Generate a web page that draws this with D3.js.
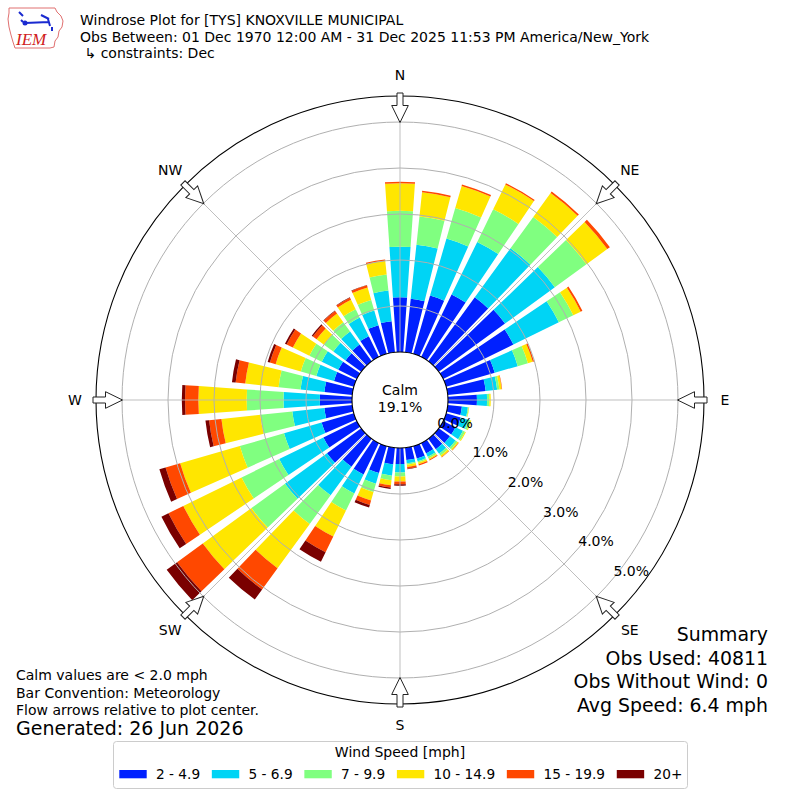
<!DOCTYPE html>
<html>
<head>
<meta charset="utf-8">
<script src="https://cdn.jsdelivr.net/npm/d3@7"></script>
<style>
  body { margin: 0; background: #fff; }
  text { font-family: "DejaVu Sans", sans-serif; fill: #000; }
</style>
</head>
<body>
<svg id="chart" width="800" height="800"></svg>
<script>
// directions (deg, meteorological) and speed bins
const directions = d3.range(0, 360, 10);
const speedBins = ["2 - 4.9", "5 - 6.9", "7 - 9.9", "10 - 14.9", "15 - 19.9", "20+"];
const binColors = ["#0020ff", "#00d4f5", "#80ff80", "#ffe600", "#ff4800", "#7a0000"];

// frequency (%) per direction for each speed bin
const s2to5   = [1.19,1.17,1.32,1.51,1.72,1.78,1.70,1.10,0.83,0.63,0.31,0.33,0.30,0.30,0.28,0.25,0.28,0.27,
                 0.35,0.36,0.61,0.76,0.75,0.92,0.81,0.73,0.61,0.70,0.61,0.45,0.45,0.42,0.45,0.50,0.65,0.68];
const s5to7   = [1.10,1.18,1.29,1.27,1.32,1.34,1.10,0.52,0.25,0.22,0.13,0.17,0.18,0.15,0.12,0.08,0.06,0.07,
                 0.18,0.25,0.24,0.46,0.77,1.13,1.07,0.85,0.70,0.79,0.52,0.40,0.40,0.33,0.35,0.45,0.33,0.67];
const s7to10  = [0.78,0.62,0.69,0.79,0.84,0.85,0.35,0.23,0.05,0.05,0.02,0.05,0.05,0.05,0.05,0.04,0.03,0.03,
                 0.09,0.10,0.19,0.41,0.77,0.90,0.91,1.00,0.70,0.80,0.48,0.35,0.30,0.25,0.25,0.20,0.24,0.35];
const s10to15 = [0.60,0.53,0.50,0.60,0.64,0.56,0.18,0.11,0.05,0.03,0.01,0.02,0.02,0.03,0.04,0.03,0.04,0.05,
                 0.11,0.11,0.19,0.63,1.19,1.31,1.41,1.35,0.85,1.05,0.73,0.57,0.40,0.20,0.23,0.23,0.28,0.30];
const s15to20 = [0.03,0.03,0.03,0.03,0.04,0.07,0.04,0.03,0.01,0.00,0.00,0.00,0.00,0.01,0.01,0.02,0.03,0.04,
                 0.06,0.05,0.10,0.38,0.57,0.69,0.36,0.33,0.27,0.29,0.21,0.13,0.15,0.10,0.07,0.05,0.05,0.03];
const s20plus = [0.00,0.00,0.00,0.00,0.00,0.00,0.00,0.00,0.00,0.00,0.00,0.00,0.00,0.00,0.00,0.00,0.00,0.01,
                 0.03,0.03,0.06,0.23,0.27,0.28,0.17,0.14,0.08,0.07,0.08,0.05,0.04,0.03,0.01,0.01,0.01,0.00];

const radialTicks = [0, 1, 2, 3, 4, 5];
const compass = ["N", "NE", "E", "SE", "S", "SW", "W", "NW"];
const calmPct = 19.1;

const titleLines = [
  "Windrose Plot for [TYS] KNOXVILLE MUNICIPAL",
  "Obs Between: 01 Dec 1970 12:00 AM - 31 Dec 2025 11:53 PM America/New_York",
  " \u21b3 constraints: Dec"
];
const noteLines = ["Calm values are < 2.0 mph", "Bar Convention: Meteorology", "Flow arrows relative to plot center."];
const generated = "Generated: 26 Jun 2026";
const summaryLines = ["Summary", "Obs Used: 40811", "Obs Without Wind: 0", "Avg Speed: 6.4 mph"];

const series = [s2to5, s5to7, s7to10, s10to15, s15to20, s20plus];
const table = directions.map((dir, i) => {
  const row = { dir: dir };
  speedBins.forEach((b, j) => row[b] = series[j][i]);
  return row;
});

const svg = d3.select("#chart");
const cx = 400, cy = 400;
const calmR = 48, outerR = 304;
const r = d3.scaleLinear().domain([0, 5]).range([calmR, 278]);
const rad = Math.PI / 180;
const halfW = 3.95 * rad;

const plot = svg.append("g").attr("transform", `translate(${cx},${cy})`);

// stacked bars
const stacked = d3.stack().keys(speedBins)(table);
const arc = d3.arc()
  .innerRadius(d => r(d[0]))
  .outerRadius(d => r(d[1]))
  .startAngle(d => d.data.dir * rad - halfW)
  .endAngle(d => d.data.dir * rad + halfW);

plot.selectAll("g.layer")
  .data(stacked)
  .enter().append("g")
    .attr("class", "layer")
    .attr("fill", (d, i) => binColors[i])
  .selectAll("path")
  .data(d => d.filter(p => p[1] - p[0] > 0))
  .enter().append("path")
    .attr("d", arc);

// grid rings
plot.selectAll("circle.ring")
  .data(radialTicks.slice(1))
  .enter().append("circle")
    .attr("class", "ring")
    .attr("r", d => r(d))
    .attr("fill", "none")
    .attr("stroke", "#b0b0b0")
    .attr("stroke-width", 1);

// spokes
plot.selectAll("line.spoke")
  .data(compass)
  .enter().append("line")
    .attr("class", "spoke")
    .attr("x1", (d, i) => calmR * Math.sin(i * 45 * rad))
    .attr("y1", (d, i) => -calmR * Math.cos(i * 45 * rad))
    .attr("x2", (d, i) => outerR * Math.sin(i * 45 * rad))
    .attr("y2", (d, i) => -outerR * Math.cos(i * 45 * rad))
    .attr("stroke", "#b8b8b8")
    .attr("stroke-width", 0.9);

// outer frame
plot.append("circle")
  .attr("r", outerR)
  .attr("fill", "none")
  .attr("stroke", "#000")
  .attr("stroke-width", 1.1);

// calm circle
plot.append("circle")
  .attr("r", calmR)
  .attr("fill", "#fff")
  .attr("stroke", "#000")
  .attr("stroke-width", 1.1);
plot.append("text")
  .attr("text-anchor", "middle")
  .attr("y", -5)
  .style("font-size", "14px")
  .text("Calm");
plot.append("text")
  .attr("text-anchor", "middle")
  .attr("y", 12)
  .style("font-size", "14px")
  .text(calmPct.toFixed(1) + "%");

// flow arrows
const tip = r(5) - 0.5, base = tip + 17, tail = outerR + 3;
const arrowPath = `M0,${-tip} L8.3,${-base} L3,${-base} L3,${-tail} L-3,${-tail} L-3,${-base} L-8.3,${-base} Z`;
plot.selectAll("path.arrow")
  .data(compass)
  .enter().append("path")
    .attr("class", "arrow")
    .attr("d", arrowPath)
    .attr("transform", (d, i) => `rotate(${i * 45})`)
    .attr("fill", "#fff")
    .attr("stroke", "#222")
    .attr("stroke-width", 1);

// compass labels
plot.selectAll("text.compass")
  .data(compass)
  .enter().append("text")
    .attr("class", "compass")
    .attr("x", (d, i) => 325 * Math.sin(i * 45 * rad))
    .attr("y", (d, i) => -325 * Math.cos(i * 45 * rad))
    .attr("text-anchor", "middle")
    .attr("dominant-baseline", "central")
    .style("font-size", "14px")
    .text(d => d);

// radial tick labels
const labAng = 130 * rad;
plot.selectAll("text.rtick")
  .data(radialTicks)
  .enter().append("text")
    .attr("class", "rtick")
    .attr("x", d => r(d) * Math.sin(labAng) + 0.5)
    .attr("y", d => -r(d) * Math.cos(labAng) - 3)
    .style("font-size", "14px")
    .text(d => d.toFixed(1) + "%");

// logo
const logo = svg.append("g");
logo.append("path")
  .attr("d", "M9,8 L55,8 L57,12 L61,16 L63,21 L62,27 L59,31 L58,37 L55,41 L54,47 L50,48 L15,48 L13,42 L11,35 L9,27 L8,19 L9,13 Z")
  .attr("fill", "#fff")
  .attr("stroke", "#e07070")
  .attr("stroke-width", 1);
logo.append("path")
  .attr("d", "M19,12 L23,16 M21,20 L23,22 M25,23 L49,22 M41,15 L49,19 M48,19 L50,26 M52,27 L52,31")
  .attr("stroke", "#1a2ad0")
  .attr("stroke-width", 2)
  .attr("fill", "none");
logo.append("circle").attr("cx", 25).attr("cy", 23).attr("r", 2.5).attr("fill", "#1a2ad0");
logo.append("text")
  .attr("x", 16).attr("y", 45)
  .style("font-family", "'Liberation Serif', serif")
  .style("font-style", "italic")
  .style("font-size", "17px")
  .style("fill", "#d02020")
  .text("IEM");

// title
svg.selectAll("text.title")
  .data(titleLines)
  .enter().append("text")
    .attr("class", "title")
    .attr("x", 80)
    .attr("y", (d, i) => 25 + i * 16.7)
    .style("font-size", "14px")
    .style("white-space", "pre")
    .attr("xml:space", "preserve")
    .text(d => d);

// notes
svg.selectAll("text.note")
  .data(noteLines)
  .enter().append("text")
    .attr("class", "note")
    .attr("x", 16)
    .attr("y", (d, i) => 680 + i * 17.5)
    .style("font-size", "14px")
    .text(d => d);
svg.append("text")
  .attr("x", 16).attr("y", 735)
  .style("font-size", "19px")
  .text(generated);

// summary
svg.selectAll("text.summary")
  .data(summaryLines)
  .enter().append("text")
    .attr("class", "summary")
    .attr("x", 768)
    .attr("y", (d, i) => 641 + i * 23.5)
    .attr("text-anchor", "end")
    .style("font-size", "18.9px")
    .text(d => d);

// legend
const legend = svg.append("g");
legend.append("rect")
  .attr("x", 113.5).attr("y", 741.5)
  .attr("width", 574).attr("height", 47)
  .attr("rx", 3)
  .attr("fill", "#fff")
  .attr("stroke", "#cccccc");
legend.append("text")
  .attr("x", 400).attr("y", 757)
  .attr("text-anchor", "middle")
  .style("font-size", "14px")
  .text("Wind Speed [mph]");
let lx = 119.3;
speedBins.forEach((b, i) => {
  legend.append("rect")
    .attr("x", lx).attr("y", 770)
    .attr("width", 27.4).attr("height", 8.3)
    .attr("fill", binColors[i]);
  const t = legend.append("text")
    .attr("x", lx + 36.7).attr("y", 779)
    .style("font-size", "13.7px")
    .text(b);
  lx += 36.7 + t.node().getComputedTextLength() + 11.7;
});
</script>
</body>
</html>
